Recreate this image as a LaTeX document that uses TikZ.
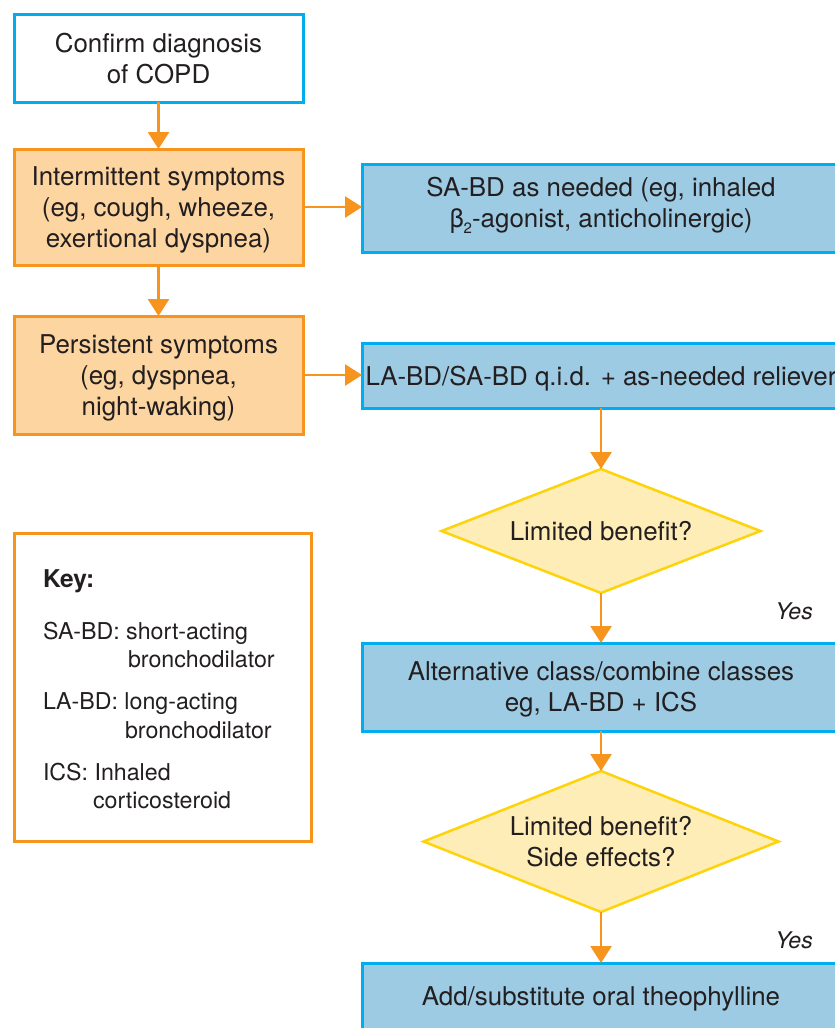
\documentclass[tikz,border=0pt]{standalone}
\usepackage{fontspec}
\setmainfont{TeX Gyre Heros}
\usetikzlibrary{shapes.geometric,arrows.meta}
\definecolor{cyanb}{HTML}{00AEEF}
\definecolor{bluef}{HTML}{9DCBE3}
\definecolor{orb}{HTML}{F7941D}
\definecolor{orf}{HTML}{FDD5A0}
\definecolor{yelb}{HTML}{FDD30A}
\definecolor{yelf}{HTML}{FEEDB6}
\definecolor{txt}{HTML}{231F20}
\begin{document}
\begin{tikzpicture}[x=1pt,y=-1pt,
  every node/.style={text=txt, font=\fontsize{25.9}{31}\selectfont, align=center, inner sep=0pt, outer sep=0pt},
  flowtext/.style={text depth=0pt},
  whitebox/.style={flowtext, draw=cyanb, fill=white, line width=3pt, minimum width=289pt, minimum height=88pt},
  orbox/.style={flowtext, draw=orb, fill=orf, line width=3pt, minimum width=289pt},
  bluebox/.style={flowtext, draw=cyanb, fill=bluef, line width=3pt, minimum width=478pt},
  decision/.style={diamond, draw=yelb, fill=yelf, line width=2.5pt},
  arr/.style={draw=orb, line width=2.8pt, -{Triangle[length=17pt,width=21pt]}},
  keytext/.style={anchor=base west, font=\fontsize{23.2}{28}\selectfont},
  yeslabel/.style={font=\fontsize{23}{28}\itshape}
]
\useasboundingbox (0,0) rectangle (835,1028);
\clip (0,0) rectangle (835,1028);
\fill[white] (0,0) rectangle (835,1028);

\node[whitebox] (confirm) at (158.5,58) {Confirm diagnosis\\of COPD};
\node[orbox, minimum height=116pt] (inter) at (158.5,207) {Intermittent symptoms\\(eg, cough, wheeze,\\exertional dyspnea)};
\node[orbox, minimum height=118pt] (persist) at (158.5,375) {Persistent symptoms\\(eg, dyspnea,\\night-waking)};

\node[bluebox, minimum height=88pt, text depth=12pt] (sabd) at (601,208) {SA-BD as needed (eg, inhaled\\β\raisebox{-0.45ex}{\fontsize{15}{15}\selectfont 2}-agonist, anticholinergic)};
\node[bluebox, minimum height=65pt] (labd) at (601,375.5) {LA-BD/SA-BD q.i.d. + as-needed reliever};
\node[decision, aspect=2.55, minimum width=319pt, minimum height=124pt] (d1) at (601,531) {Limited benefit?};
\node[bluebox, minimum height=88pt] (alt) at (601,687) {Alternative class/combine classes\\eg, LA-BD + ICS};
\node[decision, aspect=2.5, minimum width=355pt, minimum height=141pt] (d2) at (601,841.5) {Limited benefit?\\Side effects?};
\node[bluebox, minimum height=66pt] (add) at (601,996) {Add/substitute oral theophylline};

\node[yeslabel] (yes1) at (794,611) {Yes};
\node[yeslabel] (yes2) at (794,940) {Yes};

\draw[arr] (confirm) -- (inter);
\draw[arr] (inter) -- (persist);
\draw[arr] (inter.east) -- (inter.east -| sabd.west);
\draw[arr] (persist.east) -- (persist.east -| labd.west);
\draw[arr] (labd) -- (d1);
\draw[arr] (d1) -- (alt);
\draw[arr] (alt) -- (d2);
\draw[arr] (d2) -- (add);

\node[draw=orb, line width=3pt, fill=white, minimum width=297pt, minimum height=308pt] (key) at (163,687.5) {};
\node[keytext, font=\fontsize{24.5}{28}\bfseries] (k0) at (43,587) {Key:};
\node[keytext] (k1) at (43,639) {SA-BD: short-acting};
\node[keytext] (k2) at (128,667) {bronchodilator};
\node[keytext] (k3) at (43,709) {LA-BD: long-acting};
\node[keytext] (k4) at (125,738) {bronchodilator};
\node[keytext] (k5) at (43,780) {ICS: Inhaled};
\node[keytext] (k6) at (93,808) {corticosteroid};
\end{tikzpicture}
\end{document}
